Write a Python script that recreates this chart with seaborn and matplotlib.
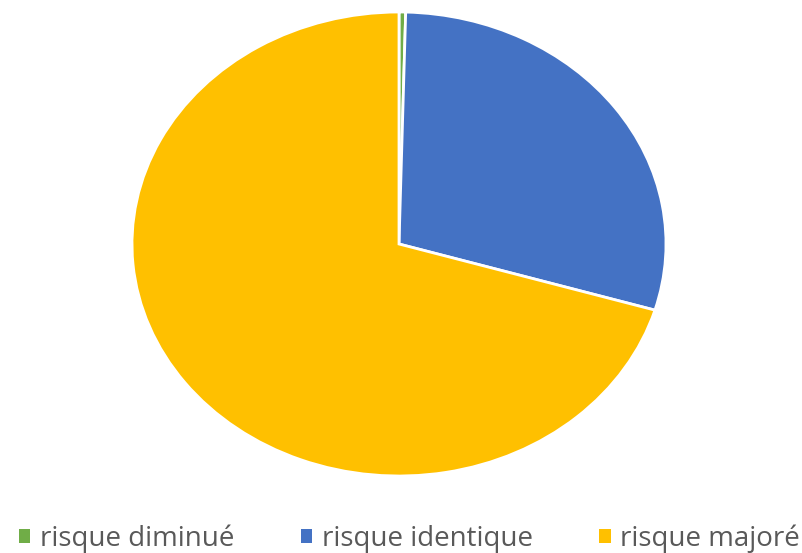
import matplotlib
matplotlib.use("Agg")
import matplotlib.pyplot as plt
import seaborn as sns
from matplotlib.patches import Patch

sns.set_theme(style="white")
plt.rcParams['font.family'] = ['Open Sans', 'DejaVu Sans']

categories = ['risque diminué', 'risque identique', 'risque majoré']
values = [1, 73, 176]
colors = ['#70AD47', '#4472C4', '#FFC000']

fig = plt.figure(figsize=(8.03, 5.53), dpi=100)
ax = fig.add_axes([132 / 803, 1 - 476 / 553, 534 / 803, 464 / 553])
ax.pie(values, colors=colors, startangle=90, counterclock=False,
       wedgeprops=dict(edgecolor='white', linewidth=2))
ax.set_aspect('auto')
ax.set_xlim(-1, 1)
ax.set_ylim(-1, 1)
ax.axis('off')

handles = [Patch(facecolor=c, edgecolor='none') for c in colors]
fig.legend(handles, categories, loc='center', bbox_to_anchor=(0.51, 1 - 539 / 553),
           ncol=3, frameon=False, fontsize=20, labelcolor='#595959',
           handlelength=0.4, handleheight=0.4, handletextpad=0.35,
           columnspacing=2.4, borderpad=0, borderaxespad=0)

fig.savefig('out.png', dpi=100)
